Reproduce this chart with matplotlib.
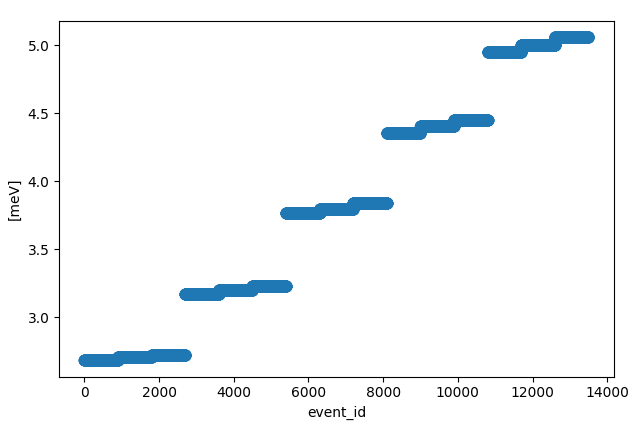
import numpy as np
import matplotlib
matplotlib.use("Agg")
import matplotlib.pyplot as plt

# energy level of each run block [meV] and number of events per block
levels = [2.683, 2.705, 2.725,
          3.175, 3.204, 3.234,
          3.768, 3.800, 3.840,
          4.356, 4.405, 4.454,
          4.953, 5.005, 5.064]
events_per_block = [900] * 15

event_id = np.arange(sum(events_per_block))
energy = np.repeat(levels, events_per_block)

fig = plt.figure(figsize=(6.33, 4.28), dpi=100)
ax = fig.add_axes([0.0935, 0.12, 0.876, 0.832])
ax.scatter(event_id, energy, s=55, color="#1f77b4")
ax.set_xlabel("event_id")
ax.set_ylabel("[meV]")
fig.savefig("out.png", dpi=100)
